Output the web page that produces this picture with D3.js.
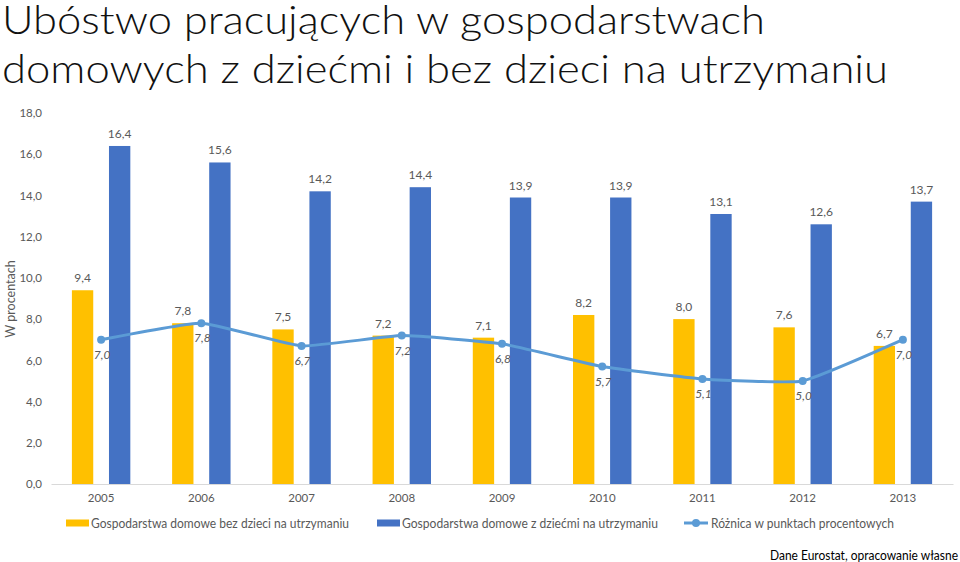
<!DOCTYPE html>
<html><head><meta charset="utf-8">
<script src="https://cdn.jsdelivr.net/npm/d3@7"></script>
<style>
body{margin:0;background:#fff;}
svg{display:block;font-family:Lato,"Open Sans",sans-serif;}
</style></head>
<body><svg id="c" width="960" height="562"></svg>
<script>
const years = ["2005","2006","2007","2008","2009","2010","2011","2012","2013"];
const noChildren = [9.4,7.8,7.5,7.2,7.1,8.2,8.0,7.6,6.7];
const withChildren = [16.4,15.6,14.2,14.4,13.9,13.9,13.1,12.6,13.7];
const difference = [7.0,7.8,6.7,7.2,6.8,5.7,5.1,5.0,7.0];
const yTicks = [0,2,4,6,8,10,12,14,16,18];
const seriesNames = ["Gospodarstwa domowe bez dzieci na utrzymaniu","Gospodarstwa domowe z dziećmi na utrzymaniu","Różnica w punktach procentowych"];
const titleLines = ["Ubóstwo pracujących w gospodarstwach","domowych z dziećmi i bez dzieci na utrzymaniu"];
const yTitle = "W procentach";
const source = "Dane Eurostat, opracowanie własne";

const YEL="#FFC000", BLUE="#4472C4", LINE="#5B9BD5", GRAY="#595959";
const svg = d3.select("#c");
const fmt = v => v.toFixed(1).replace(".",",");

function fit(sel, w){ sel.attr("textLength", w).attr("lengthAdjust","spacingAndGlyphs"); }

// title
const t1 = svg.append("text").attr("x",2).attr("y",34).attr("font-size",39).attr("font-weight",300).attr("fill","#111").text(titleLines[0]);
fit(t1,763);
const t2 = svg.append("text").attr("x",2).attr("y",83).attr("font-size",39).attr("font-weight",300).attr("fill","#111").text(titleLines[1]);
fit(t2,886);

const x = d3.scaleBand().domain(years).range([51,953]).paddingInner(0).paddingOuter(0);
const y = d3.scaleLinear().domain([0,18]).range([484,113]);
const step = x.bandwidth();
const bw = 0.213*step, off = 0.185*step;
const cx = d => x(d)+step/2;

// y axis
const ya = svg.append("g").attr("transform","translate(51,0)")
  .call(d3.axisLeft(y).tickValues(yTicks).tickFormat(fmt).tickSize(0).tickPadding(9));
ya.select(".domain").remove();
ya.selectAll("text").attr("font-size",11.5).attr("fill",GRAY).attr("font-family","Lato,'Open Sans',sans-serif");

// x axis
const xa = svg.append("g").attr("transform","translate(0,484)")
  .call(d3.axisBottom(x).tickSize(0).tickPadding(10));
xa.select(".domain").attr("stroke","#d9d9d9").attr("stroke-width",1.2);
xa.selectAll("text").attr("font-size",11.5).attr("fill",GRAY).attr("font-family","Lato,'Open Sans',sans-serif");

// y title
svg.append("text").attr("transform","translate(15,299) rotate(-90)").attr("text-anchor","middle")
  .attr("font-size",12.5).attr("fill",GRAY).text(yTitle);

// bars
svg.append("g").selectAll("rect").data(years).join("rect")
  .attr("x",(d)=>cx(d)-off-bw/2).attr("width",bw)
  .attr("y",(d,i)=>y(noChildren[i])).attr("height",(d,i)=>y(0)-y(noChildren[i])).attr("fill",YEL);
svg.append("g").selectAll("rect").data(years).join("rect")
  .attr("x",(d)=>cx(d)+off-bw/2).attr("width",bw)
  .attr("y",(d,i)=>y(withChildren[i])).attr("height",(d,i)=>y(0)-y(withChildren[i])).attr("fill",BLUE);

// bar labels
svg.append("g").selectAll("text").data(years).join("text")
  .attr("x",d=>cx(d)-off).attr("y",(d,i)=>y(noChildren[i])-8).attr("text-anchor","middle")
  .attr("font-size",12).attr("fill",GRAY).text((d,i)=>fmt(noChildren[i]));
svg.append("g").selectAll("text").data(years).join("text")
  .attr("x",d=>cx(d)+off).attr("y",(d,i)=>y(withChildren[i])-8).attr("text-anchor","middle")
  .attr("font-size",12).attr("fill",GRAY).text((d,i)=>fmt(withChildren[i]));

// line
const line = d3.line().x((d,i)=>cx(years[i])).y(d=>y(d)).curve(d3.curveCardinal.tension(0.6));
svg.append("path").datum(difference).attr("d",line).attr("fill","none").attr("stroke",LINE).attr("stroke-width",3);
svg.append("g").selectAll("circle").data(difference).join("circle")
  .attr("cx",(d,i)=>cx(years[i])).attr("cy",d=>y(d)).attr("r",4).attr("fill",LINE);
svg.append("g").selectAll("text").data(difference).join("text")
  .attr("x",(d,i)=>cx(years[i])+1).attr("y",d=>y(d)+19).attr("text-anchor","middle")
  .attr("font-size",12).attr("font-style","italic").attr("fill",GRAY).text(d=>fmt(d));

// legend
const lg = svg.append("g");
const ly = 523;
lg.append("rect").attr("x",66).attr("y",ly-3.5).attr("width",23).attr("height",7).attr("fill",YEL);
const l1 = lg.append("text").attr("x",91).attr("y",ly+4.5).attr("font-size",13).attr("fill",GRAY).text(seriesNames[0]);
fit(l1,258);
lg.append("rect").attr("x",377).attr("y",ly-3.5).attr("width",23).attr("height",7).attr("fill",BLUE);
const l2 = lg.append("text").attr("x",402).attr("y",ly+4.5).attr("font-size",13).attr("fill",GRAY).text(seriesNames[1]);
fit(l2,256);
lg.append("line").attr("x1",684).attr("x2",708).attr("y1",ly).attr("y2",ly).attr("stroke",LINE).attr("stroke-width",3);
lg.append("circle").attr("cx",696).attr("cy",ly).attr("r",4).attr("fill",LINE);
const l3 = lg.append("text").attr("x",711).attr("y",ly+4.5).attr("font-size",13).attr("fill",GRAY).text(seriesNames[2]);
fit(l3,183);

// source
const s = svg.append("text").attr("x",958).attr("y",560).attr("text-anchor","end").attr("font-size",13.5).attr("fill","#000").text(source);
fit(s,188);
</script></body></html>
